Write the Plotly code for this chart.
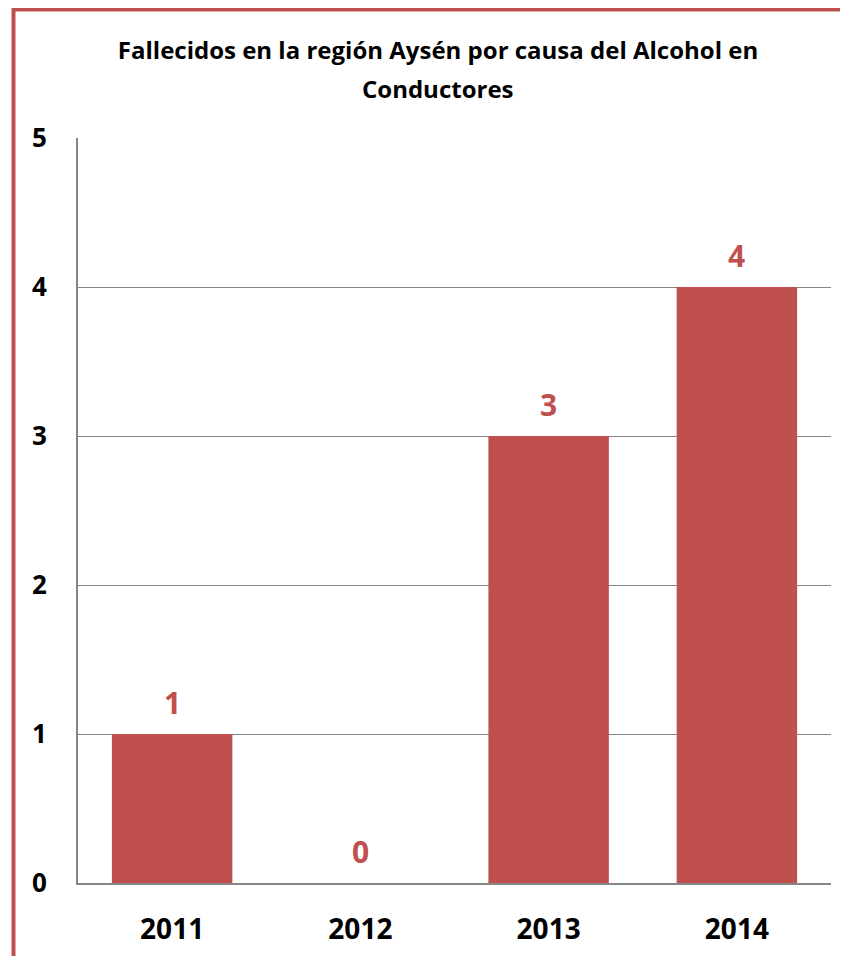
import plotly.graph_objects as go

years = ["2011", "2012", "2013", "2014"]
deaths = [1, 0, 3, 4]
y_ticks = [0, 1, 2, 3, 4, 5]
title_line1 = "Fallecidos en la región Aysén por causa del Alcohol en"
title_line2 = "Conductores"

BAR = "#C0504D"
FONT = "Open Sans"

# the page body has an 8px margin, so the figure is offset by 8px
OFF = 8
W, H = 848 - OFF, 956 - OFF
L, R, T, B = 78 - OFF, 17, 138 - OFF, 73
pw, ph = W - L - R, H - T - B

fig = go.Figure()
fig.add_trace(go.Bar(x=years, y=deaths, marker=dict(color=BAR, line=dict(width=0)),
                     hoverinfo="x+y"))

# value labels (x given as category index so the axis range is unaffected)
for i, v in enumerate(deaths):
    fig.add_annotation(x=i, y=v, xref="x", yref="y", text=f"<b>{v}</b>", showarrow=False,
                       yanchor="middle", yshift=32,
                       font=dict(family=FONT, size=30, color=BAR))

# second title line
fig.add_annotation(xref="paper", yref="paper", x=(438 - L - OFF) / pw,
                   y=1 + (T - (88 - OFF)) / ph, xanchor="center", yanchor="middle",
                   text=f"<b>{title_line2}</b>", showarrow=False,
                   font=dict(family=FONT, size=24, color="black"))

# outer border (right/bottom edges fall outside the page)
bx0 = (13.5 - OFF - L) / pw
by1 = 1 + (T - (9.5 - OFF)) / ph
fig.add_shape(type="rect", xref="paper", yref="paper",
              x0=bx0, x1=1.2, y0=-0.3, y1=by1,
              line=dict(color=BAR, width=4), fillcolor="rgba(0,0,0,0)", layer="above")

fig.update_layout(
    width=W, height=H,
    margin=dict(l=L, r=R, t=T, b=B, pad=0, autoexpand=False),
    paper_bgcolor="white", plot_bgcolor="white",
    bargap=0.36,
    showlegend=False,
    title=dict(text=f"<b>{title_line1}</b>", x=(438 - OFF) / W, xanchor="center",
               y=1 - (51 - OFF) / H, yanchor="middle",
               font=dict(family=FONT, size=24, color="black")),
    xaxis=dict(type="category", range=[-0.5, len(years) - 0.5],
               showgrid=False, showline=True, linecolor="#868686",
               linewidth=2, ticks="outside", ticklen=20, tickcolor="rgba(0,0,0,0)",
               tickangle=0,
               tickvals=years, ticktext=[f"<b>{y}</b>" for y in years],
               tickfont=dict(family=FONT, size=28, color="black")),
    yaxis=dict(range=[0, 5], tickvals=y_ticks, ticktext=[f"<b>{t}</b>" for t in y_ticks],
               showgrid=True, gridcolor="#868686",
               gridwidth=1, showline=True, linecolor="#868686", linewidth=2,
               zeroline=False, ticks="outside", ticklen=24, tickcolor="rgba(0,0,0,0)",
               tickfont=dict(family=FONT, size=26, color="black")),
)

fig.write_html("out.html")
